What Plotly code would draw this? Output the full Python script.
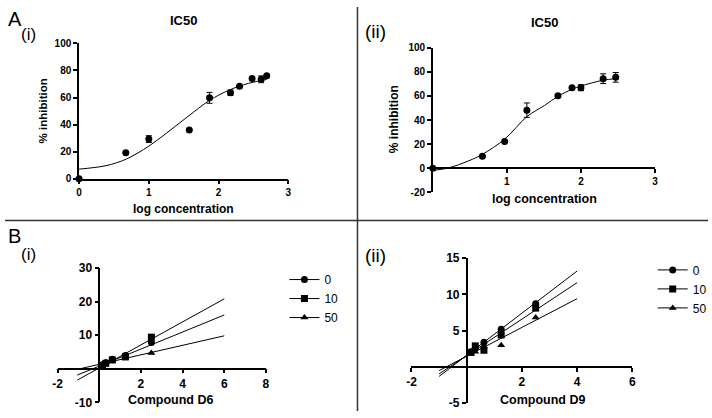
import plotly.graph_objects as go

# ---------------- data ----------------
# Panel A(i) IC50
a1_x = [0, 0.67, 1.0, 1.58, 1.87, 2.17, 2.30, 2.48, 2.61, 2.69]
a1_y = [0, 19.3, 29.3, 36.0, 59.8, 63.6, 68.4, 74.1, 73.5, 76.2]
a1_err = [0, 0, 2.5, 0, 4, 2, 0, 0, 2.5, 0]
a1_fit_x = [0, 0.2, 0.4, 0.68, 1.0, 1.25, 1.56, 1.87, 2.15, 2.43, 2.69]
a1_fit_y = [7.1, 8.2, 9.8, 14.6, 24.1, 33.6, 46.0, 57.9, 65.5, 70.5, 73.4]

# Panel A(ii) IC50
a2_x = [0, 0.67, 0.97, 1.27, 1.69, 1.88, 2.0, 2.3, 2.47]
a2_y = [0, 9.9, 22.2, 48.2, 60.2, 66.9, 66.9, 74.4, 75.5]
a2_err = [0, 0, 0, 6, 0, 0, 2.5, 4, 4]
a2_fit_x = [0, 0.2, 0.49, 0.67, 0.97, 1.27, 1.51, 1.69, 1.88, 2.0, 2.3, 2.47]
a2_fit_y = [-1.9, 0, 6.2, 11.5, 24.1, 42.8, 52.2, 59.7, 65.6, 68.3, 73.1, 74.4]

# Panel B (Lineweaver-Burk)
series_names = ["0", "10", "50"]
series_symbols = ["circle", "square", "triangle-up"]
b_x = [0.156, 0.3125, 0.625, 1.25, 2.5]

b1_y = {
    "0": [1.2, 1.8, 2.8, 3.9, 7.8],
    "10": [1.0, 1.6, 2.6, 3.5, 9.4],
    "50": [1.3, 1.9, 2.6, 3.3, 4.7],
}
b1_line_x = [-1.06, 6.0]
b1_line_y = {
    "0": [-1.9, 16.0],
    "10": [-3.4, 20.8],
    "50": [-0.2, 9.8],
}

b2_y = {
    "0": [2.1, 2.6, 3.4, 5.2, 8.7],
    "10": [2.0, 2.9, 2.3, 4.4, 8.1],
    "50": [2.1, 2.1, 2.8, 3.0, 6.8],
}
b2_line_x = [-1.0, 4.0]
b2_line_y = {
    "0": [-1.3, 13.2],
    "10": [-0.95, 11.6],
    "50": [-0.5, 9.4],
}

# tick values
a1_xticks = [0, 1, 2, 3]
a1_yticks = [0, 20, 40, 60, 80, 100]
a2_xticks = [1, 2, 3]
a2_yticks = [-20, 0, 20, 40, 60, 80, 100]
b1_xticks = [-2, 2, 4, 6, 8]
b1_yticks = [-10, 10, 20, 30]
b2_xticks = [-2, 2, 4, 6]
b2_yticks = [-5, 5, 10, 15]

# ---------------- layout helpers ----------------
W, H = 712, 418
FONT = "Liberation Sans, Arial, sans-serif"

def px_x(p):
    return p / W

def px_y(p):
    return 1 - p / H

def zero_pos(dom, rng):
    return dom[0] + (0 - rng[0]) / (rng[1] - rng[0]) * (dom[1] - dom[0])

def labels(vals):
    return [str(v) for v in vals]  # plain hyphen minus, as in the original

fig = go.Figure()

# A(i)
fig.add_trace(go.Scatter(x=a1_fit_x, y=a1_fit_y, mode="lines", line=dict(color="black", width=1, shape="spline"),
                         xaxis="x", yaxis="y", showlegend=False, cliponaxis=False))
fig.add_trace(go.Scatter(x=a1_x, y=a1_y, mode="markers", marker=dict(color="black", size=7),
                         error_y=dict(type="data", array=a1_err, color="black", thickness=1, width=3),
                         xaxis="x", yaxis="y", showlegend=False, cliponaxis=False))
# A(ii)
fig.add_trace(go.Scatter(x=a2_fit_x, y=a2_fit_y, mode="lines", line=dict(color="black", width=1, shape="spline"),
                         xaxis="x2", yaxis="y2", showlegend=False, cliponaxis=False))
fig.add_trace(go.Scatter(x=a2_x, y=a2_y, mode="markers", marker=dict(color="black", size=7),
                         error_y=dict(type="data", array=a2_err, color="black", thickness=1, width=3),
                         xaxis="x2", yaxis="y2", showlegend=False, cliponaxis=False))

# B panels
for (xa, ya, ys, lx, ly, lg) in [("x3", "y3", b1_y, b1_line_x, b1_line_y, "legend"),
                                  ("x4", "y4", b2_y, b2_line_x, b2_line_y, "legend2")]:
    for name in series_names:
        fig.add_trace(go.Scatter(x=lx, y=ly[name], mode="lines", line=dict(color="black", width=1),
                                 xaxis=xa, yaxis=ya, showlegend=False, cliponaxis=False))
    for name, sym in zip(series_names, series_symbols):
        fig.add_trace(go.Scatter(x=b_x, y=ys[name], mode="markers",
                                 marker=dict(color="black", size=7, symbol=sym),
                                 xaxis=xa, yaxis=ya, showlegend=False, cliponaxis=False))
    for name, sym in zip(series_names, series_symbols):
        fig.add_trace(go.Scatter(x=[None], y=[None], mode="lines+markers", name=name,
                                 marker=dict(color="black", size=7, symbol=sym),
                                 line=dict(color="black", width=1),
                                 xaxis=xa, yaxis=ya, showlegend=True, legend=lg))

axis_common = dict(showgrid=False, zeroline=False, showline=True, linecolor="black", linewidth=1.5,
                   ticks="outside", ticklen=4, tickwidth=1.5, tickcolor="black", tickmode="array")

dom_a1x = [px_x(75), px_x(287)]
dom_a1y = [px_y(177.7), px_y(37.7)]
dom_a2x = [px_x(433.3), px_x(658.3)]
dom_a2y = [px_y(191.6), px_y(42.3)]
dom_b1x = [px_x(53.3), px_x(264.3)]
dom_b1y = [px_y(409), px_y(270)]
dom_b2x = [px_x(411.7), px_x(635.3)]
dom_b2y = [px_y(410), px_y(259.7)]

rng_a1x, rng_a1y = [0, 3], [0, 100]
rng_a2x, rng_a2y = [0, 3], [-20, 100]
rng_b1x, rng_b1y = [-2, 8], [-10, 30]
rng_b2x, rng_b2y = [-2, 6], [-5, 15]

tfA = dict(family=FONT, size=10, color="black", weight="bold")
tfB = dict(family=FONT, size=12, color="black", weight="bold")

fig.update_layout(
    width=W, height=H, margin=dict(l=0, r=0, t=0, b=0),
    paper_bgcolor="white", plot_bgcolor="white",
    font=dict(family=FONT, color="black"),
    xaxis=dict(domain=dom_a1x, range=rng_a1x, tickvals=a1_xticks, ticktext=labels(a1_xticks),
               anchor="y", tickfont=tfA, **axis_common),
    yaxis=dict(domain=dom_a1y, range=rng_a1y, tickvals=a1_yticks, ticktext=labels(a1_yticks),
               anchor="x", tickfont=tfA, **axis_common),
    xaxis2=dict(domain=dom_a2x, range=rng_a2x, tickvals=a2_xticks, ticktext=labels(a2_xticks), anchor="free",
                position=zero_pos(dom_a2y, rng_a2y), tickfont=tfA, **axis_common),
    yaxis2=dict(domain=dom_a2y, range=rng_a2y, tickvals=a2_yticks, ticktext=labels(a2_yticks),
                anchor="x2", tickfont=tfA, **axis_common),
    xaxis3=dict(domain=dom_b1x, range=rng_b1x, tickvals=b1_xticks, ticktext=labels(b1_xticks), anchor="free",
                position=zero_pos(dom_b1y, rng_b1y), tickfont=tfB, **axis_common),
    yaxis3=dict(domain=dom_b1y, range=rng_b1y, tickvals=b1_yticks, ticktext=labels(b1_yticks), anchor="free",
                position=zero_pos(dom_b1x, rng_b1x), tickfont=tfB, **axis_common),
    xaxis4=dict(domain=dom_b2x, range=rng_b2x, tickvals=b2_xticks, ticktext=labels(b2_xticks), anchor="free",
                position=zero_pos(dom_b2y, rng_b2y), tickfont=tfB, **axis_common),
    yaxis4=dict(domain=dom_b2y, range=rng_b2y, tickvals=b2_yticks, ticktext=labels(b2_yticks), anchor="free",
                position=zero_pos(dom_b2x, rng_b2x), tickfont=tfB, **axis_common),
    legend=dict(x=px_x(283), y=px_y(267), xanchor="left", yanchor="top", font=dict(family=FONT, size=12),
                bgcolor="rgba(0,0,0,0)", tracegroupgap=0),
    legend2=dict(x=px_x(656), y=px_y(257), xanchor="left", yanchor="top", font=dict(family=FONT, size=12),
                 bgcolor="rgba(0,0,0,0)", tracegroupgap=0),
)

def ann(text, x, y, size, bold=False, angle=0):
    fig.add_annotation(text=f"<b>{text}</b>" if bold else text, x=px_x(x), y=px_y(y), xref="paper", yref="paper",
                       xanchor="center", yanchor="middle", showarrow=False, textangle=angle,
                       font=dict(family=FONT, size=size, color="black"))

ann("IC50", 181, 14, 13, bold=True)
ann("IC50", 546, 16.5, 13, bold=True)
ann("% inhibition", 38, 107.5, 11.5, bold=True, angle=-90)
ann("% inhibition", 394, 116, 12, bold=True, angle=-90)
ann("log concentration", 181, 208.5, 12, bold=True)
ann("log concentration", 546, 199, 12.5, bold=True)
ann("Compound D6", 168, 406.5, 12.5, bold=True)
ann("Compound D9", 544, 406.5, 12.5, bold=True)
ann("A", 10, 12.5, 20)
ann("(i)", 24, 28.5, 17)
ann("(ii)", 375, 25, 19)
ann("B", 9.5, 236.5, 20)
ann("(i)", 23.5, 256.5, 17)
ann("(ii)", 375, 257, 19)

# panel dividers
fig.add_shape(type="line", xref="paper", yref="paper", x0=px_x(357), x1=px_x(357), y0=0, y1=1,
              line=dict(color="#333333", width=1.5))
fig.add_shape(type="line", xref="paper", yref="paper", x0=0, x1=1, y0=px_y(221), y1=px_y(221),
              line=dict(color="#333333", width=1.5))

fig.write_html("out.html")
